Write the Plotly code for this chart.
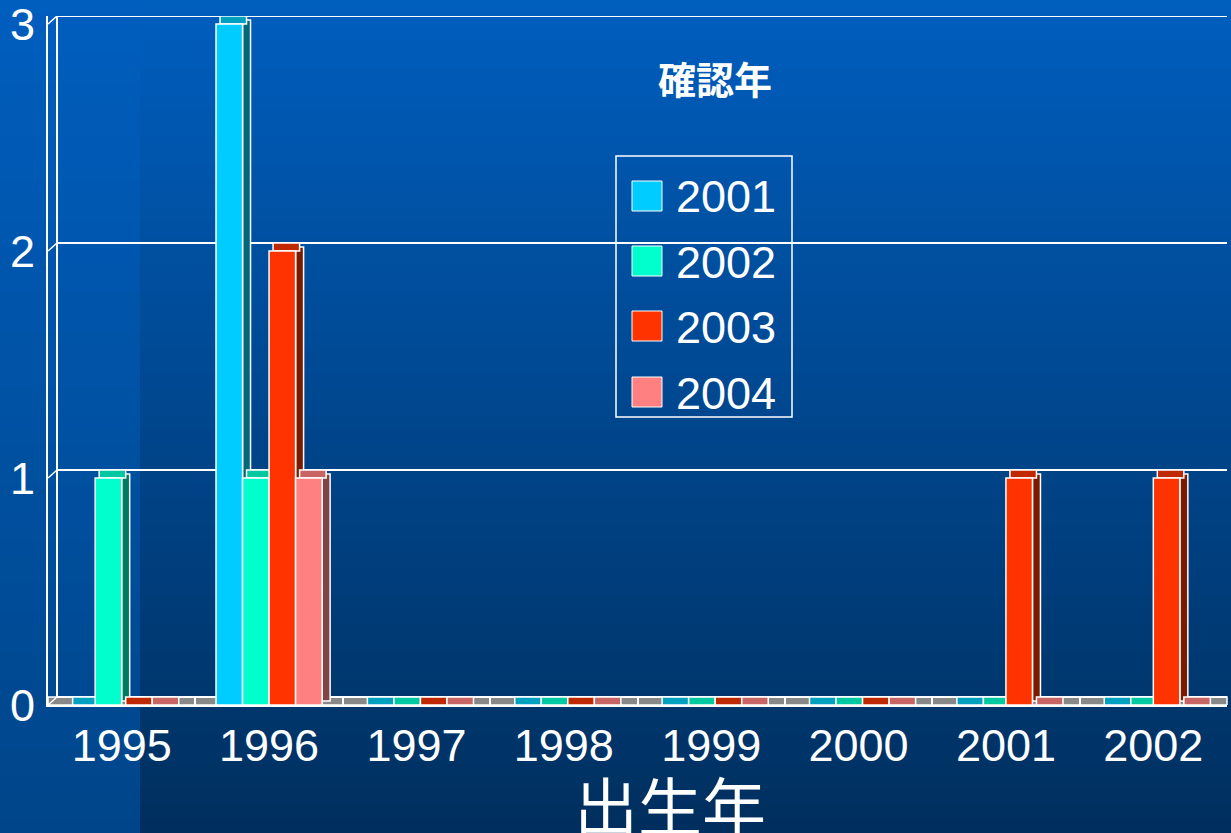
import plotly.graph_objects as go

# ---------------- data ----------------
birth_years = ["1995", "1996", "1997", "1998", "1999", "2000", "2001", "2002"]
series_names = ["2001", "2002", "2003", "2004"]
v2001 = [0, 3, 0, 0, 0, 0, 0, 0]
v2002 = [1, 1, 0, 0, 0, 0, 0, 0]
v2003 = [0, 2, 0, 0, 0, 0, 1, 1]
v2004 = [0, 1, 0, 0, 0, 0, 0, 0]
y_ticks = [0, 1, 2, 3]
legend_title = "確認年"
x_title = "出生年"

series_values = [v2001, v2002, v2003, v2004]
front_colors = ["#00CCFF", "#00FFCC", "#FF3300", "#FF8080"]
side_colors = ["#006878", "#007A5C", "#7A1A00", "#804444"]
top_colors = ["#00A0C0", "#00C8A0", "#C02800", "#C86464"]

# ---------------- geometry helpers (pixels -> paper) ----------------
W, H = 1231, 833
ML, MR, MT, MB = 48, 4, 16, 128
PW, PH = W - ML - MR, H - MT - MB
DEPTH_Y = 8 / 227.0          # depth in y data units
DEPTH_X = 8 / 147.4          # depth in category units
BAR_W = 0.18
Y_MAX = 3 + DEPTH_Y


def px(x):
    return (x - ML) / PW


def py(y):
    return (H - MB - y) / PH


fig = go.Figure()

# ---------------- bars with pseudo 3D faces ----------------
for i, (name, vals) in enumerate(zip(series_names, series_values)):
    left = -2 * BAR_W + i * BAR_W
    # side face
    fig.add_trace(go.Bar(
        x=birth_years, y=[v if v else None for v in vals],
        base=DEPTH_Y / 2, offset=left + BAR_W, width=DEPTH_X,
        marker=dict(color=side_colors[i], line=dict(color="white", width=1.5)),
        showlegend=False, hoverinfo="skip"))
    # top face
    fig.add_trace(go.Bar(
        x=birth_years, y=[DEPTH_Y for _ in vals], base=vals,
        offset=left + DEPTH_X / 2, width=BAR_W,
        marker=dict(color=top_colors[i], line=dict(color="white", width=1.5)),
        showlegend=False, hoverinfo="skip"))
    # front face
    fig.add_trace(go.Bar(
        x=birth_years, y=[v if v else None for v in vals], name=name,
        offset=left, width=BAR_W,
        marker=dict(color=front_colors[i], line=dict(color="white", width=1.5)),
        showlegend=False))

shapes = []
# ---------------- background gradient ----------------
N = 60
top_c = (0x00, 0x5E, 0xBE)
bot_r = (0x00, 0x2F, 0x5E)
bot_l = (0x00, 0x45, 0x89)
for k in range(N):
    t = (k + 0.5) / N
    y0p, y1p = k * H / N - 1, (k + 1) * H / N + 1
    cr = tuple(int(round(a + (b - a) * t)) for a, b in zip(top_c, bot_r))
    cl = tuple(int(round(a + (b - a) * t)) for a, b in zip(top_c, bot_l))
    shapes.append(dict(type="rect", xref="paper", yref="paper", layer="below",
                       x0=px(140), x1=px(W + 2), y0=py(y1p), y1=py(y0p),
                       fillcolor="rgb(%d,%d,%d)" % cr, line=dict(width=0)))
    shapes.append(dict(type="rect", xref="paper", yref="paper", layer="below",
                       x0=px(-2), x1=px(140), y0=py(y1p), y1=py(y0p),
                       fillcolor="rgb(%d,%d,%d)" % cl, line=dict(width=0)))

# floor
shapes.append(dict(type="rect", xref="paper", yref="y", layer="below",
                   x0=0, x1=1, y0=0, y1=DEPTH_Y, fillcolor="#888888",
                   line=dict(color="white", width=1.5)))
# back wall gridlines and connectors
bx = px(57)
for t in y_ticks:
    shapes.append(dict(type="line", xref="paper", yref="y", layer="below",
                       x0=bx, x1=1, y0=t + DEPTH_Y, y1=t + DEPTH_Y,
                       line=dict(color="white", width=2)))
    shapes.append(dict(type="line", xref="paper", yref="y", layer="below",
                       x0=0, x1=bx, y0=t, y1=t + DEPTH_Y,
                       line=dict(color="white", width=1.5)))
shapes.append(dict(type="line", xref="paper", yref="y", layer="below",
                   x0=bx, x1=bx, y0=DEPTH_Y, y1=Y_MAX,
                   line=dict(color="white", width=2)))

# ---------------- manual legend ----------------
shapes.append(dict(type="rect", xref="paper", yref="paper",
                   x0=px(616), x1=px(792), y0=py(417), y1=py(156),
                   line=dict(color="white", width=1.5), fillcolor="rgba(0,0,0,0)"))
annotations = []
item_y = [196, 261, 326, 392]
for i, name in enumerate(series_names):
    cy = item_y[i]
    shapes.append(dict(type="rect", xref="paper", yref="paper",
                       x0=px(632), x1=px(662), y0=py(cy + 15), y1=py(cy - 15),
                       fillcolor=front_colors[i], line=dict(color="white", width=1)))
    annotations.append(dict(text=name, xref="paper", yref="paper",
                            x=px(674), y=py(cy + 1), xanchor="left", yanchor="middle",
                            showarrow=False,
                            font=dict(family="Liberation Sans, Arial", size=45, color="white")))

annotations.append(dict(text="<b>" + legend_title + "</b>", xref="paper", yref="paper",
                        x=px(715), y=py(78), xanchor="center", yanchor="middle",
                        showarrow=False,
                        font=dict(family="Noto Sans CJK JP", size=38, color="white")))
annotations.append(dict(text=x_title, xref="paper", yref="paper",
                        x=px(670), y=py(803), xanchor="center", yanchor="middle",
                        showarrow=False,
                        font=dict(family="Noto Sans CJK JP", size=64, color="white")))

fig.update_layout(
    width=W, height=H,
    margin=dict(l=ML, r=MR, t=MT, b=MB, autoexpand=False),
    paper_bgcolor="#005CBA", plot_bgcolor="rgba(0,0,0,0)",
    barmode="overlay", showlegend=False,
    shapes=shapes, annotations=annotations,
    font=dict(family="Liberation Sans, Arial", color="white"),
)
fig.update_xaxes(
    type="category", categoryorder="array", categoryarray=birth_years,
    range=[-0.5, 7.5], showgrid=False, zeroline=False, automargin=False,
    showline=True, linecolor="white", linewidth=2,
    ticks="inside", tickson="boundaries", ticklen=9, tickcolor="white", tickwidth=1.5,
    tickfont=dict(size=45, color="white"), ticklabelstandoff=0,
)
fig.update_yaxes(
    range=[0, Y_MAX], tickvals=y_ticks, showgrid=False, zeroline=False, automargin=False,
    showline=True, linecolor="white", linewidth=2, ticks="",
    tickfont=dict(size=45, color="white"), ticklabelstandoff=2,
    ticklabeloverflow="allow",
)

fig.write_html(
    "out.html",
    config={"displayModeBar": False},
    post_script="document.body.style.margin='0';document.body.style.padding='0';",
)
